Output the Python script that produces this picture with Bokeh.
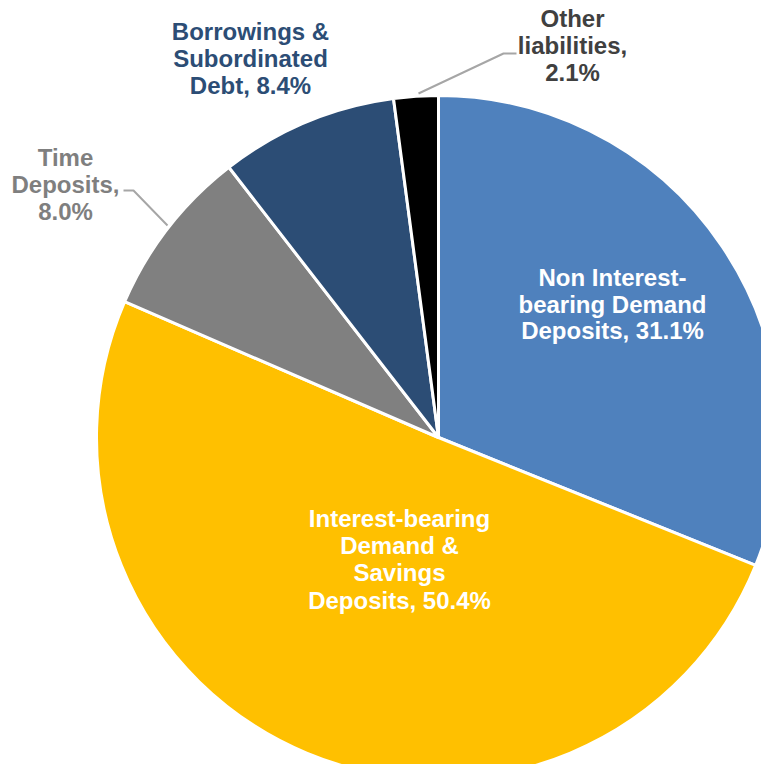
import math
from bokeh.plotting import figure
from bokeh.models import Range1d, ColumnDataSource
from bokeh.core.properties import value
from bokeh.embed import file_html
from bokeh.resources import INLINE

# ---- data ----
categories = [
    "Non Interest-bearing Demand Deposits",
    "Interest-bearing Demand & Savings Deposits",
    "Time Deposits",
    "Borrowings & Subordinated Debt",
    "Other liabilities",
]
shares = [31.1, 50.4, 8.0, 8.4, 2.1]
label_lines = [
    ["Non Interest-", "bearing Demand", "Deposits, {v}"],
    ["Interest-bearing", "Demand &", "Savings", "Deposits, {v}"],
    ["Time", "Deposits,", "{v}"],
    ["Borrowings &", "Subordinated", "Debt, {v}"],
    ["Other", "liabilities,", "{v}"],
]

# ---- styles / layout ----
slice_colors = ["#4F81BD", "#FFC000", "#808080", "#2C4D75", "#000000"]
label_colors = ["#FFFFFF", "#FFFFFF", "#7F7F7F", "#2C4D75", "#404040"]
# (center x, first line y, line step) in picture pixels
label_layout = [
    (612, 277, 26.5),
    (399, 518, 27.2),
    (65, 157, 26.8),
    (250, 31, 26.8),
    (572, 18, 26.8),
]
leaders = [
    [(123, 190), (133, 190), (167, 225)],
    [(516, 53), (503, 53), (418, 93)],
]

W, H = 761, 764
cx_pix, cy_pix, R = 438, 437, 342


def dx(sx):
    return sx


def dy(sy):
    return H - sy


p = figure(width=W, height=H, output_backend="svg", toolbar_location=None,
           x_range=Range1d(0, W), y_range=Range1d(0, H), min_border=0)
p.axis.visible = False
p.grid.visible = False
p.outline_line_color = None
p.background_fill_color = "white"
p.border_fill_color = "white"

total = sum(shares)
starts, ends = [], []
cum = 0.0
for s in shares:
    starts.append(math.radians(90 - cum / total * 360))
    cum += s
    ends.append(math.radians(90 - cum / total * 360))

src = ColumnDataSource(dict(cat=categories, share=shares, start=starts, end=ends, color=slice_colors))
p.wedge(x=dx(cx_pix), y=dy(cy_pix), radius=R, start_angle="start", end_angle="end",
        direction="clock", fill_color="color", line_color="white", line_width=3, source=src)

for pts in leaders:
    p.line([dx(a) for a, b in pts], [dy(b) for a, b in pts], line_color="#A6A6A6", line_width=2)

tx, ty, tt, tc = [], [], [], []
for lines, s, (lx, ly, step), col in zip(label_lines, shares, label_layout, label_colors):
    for i, ln in enumerate(lines):
        tx.append(dx(lx))
        ty.append(dy(ly + i * step))
        tt.append(ln.format(v=f"{s:.1f}%"))
        tc.append(col)

p.text(x=tx, y=ty, text=tt, text_color=tc, text_align="center", text_baseline="alphabetic",
       text_font=value("Liberation Sans"), text_font_style="bold", text_font_size="24px")

open("out.html", "w").write(file_html(p, INLINE))
